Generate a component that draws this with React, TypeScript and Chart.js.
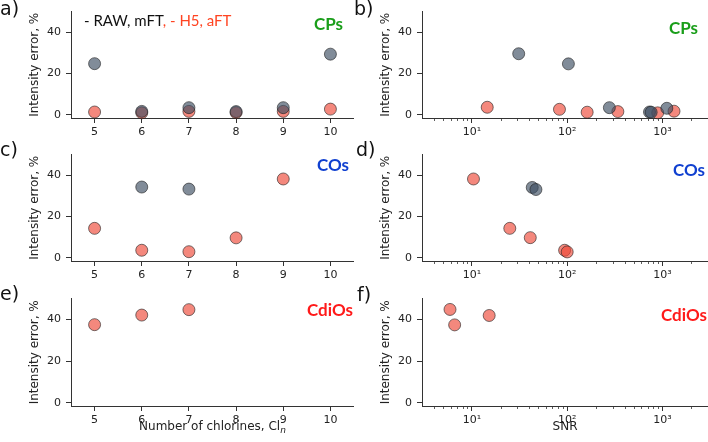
import React, { useEffect, useRef } from 'react';
import { Chart, registerables } from 'chart.js';

Chart.register(...registerables);

// ---------- data ----------
const chlorineTicks = [5, 6, 7, 8, 9, 10];
const snrTicks = [10, 100, 1000];
const snrTickLabels = ['10¹', '10²', '10³'];
const snrMinorTicks = [4, 5, 6, 7, 8, 9, 20, 30, 40, 50, 60, 70, 80, 90, 200, 300, 400, 500, 600, 700, 800, 900, 2000, 3000];
const errorTicks = [0, 20, 40];

// a) CPs vs number of chlorines
const cpClRawX = [5, 6, 7, 8, 9, 10];
const cpClRawY = [24.8, 1.7, 3.5, 1.6, 3.5, 29.4];
const cpClH5X = [5, 6, 7, 8, 9, 10];
const cpClH5Y = [1.4, 1.0, 1.7, 1.1, 1.7, 2.8];

// b) CPs vs SNR
const cpSnrRawX = [31, 103, 277, 730, 760, 1110];
const cpSnrRawY = [29.6, 24.7, 3.5, 1.4, 1.3, 3.2];
const cpSnrH5X = [14.5, 83, 162, 340, 890, 1320];
const cpSnrH5Y = [3.7, 2.7, 1.3, 1.6, 1.0, 1.8];

// c) COs vs number of chlorines
const coClRawX = [6, 7];
const coClRawY = [34.3, 33.3];
const coClH5X = [5, 6, 7, 8, 9];
const coClH5Y = [14.3, 3.7, 3.0, 9.7, 38.2];

// d) COs vs SNR
const coSnrRawX = [43, 47];
const coSnrRawY = [34.1, 33.1];
const coSnrH5X = [10.4, 25, 41, 94, 100];
const coSnrH5Y = [38.2, 14.3, 9.8, 3.7, 2.9];

// e) CdiOs vs number of chlorines
const cdClH5X = [5, 6, 7];
const cdClH5Y = [37.5, 42.1, 44.7];

// f) CdiOs vs SNR
const cdSnrH5X = [5.9, 6.6, 15.2];
const cdSnrH5Y = [44.8, 37.4, 41.9];

// ---------- styling ----------
const FONT = 'DejaVu Sans';
const GRAY = 'rgba(61,79,99,0.65)';
const RED = 'rgba(238,72,55,0.65)';
const EDGE = 'rgba(30,30,30,0.75)';
const AXIS = '#333333';
const TEXT = '#222222';

const zip = (xs: number[], ys: number[]) => xs.map((x, i) => ({ x, y: ys[i] }));

const minorTickPlugin = {
  id: 'minorTicks',
  afterDraw(chart: any) {
    const sc = chart.scales.x;
    if (!sc || sc.type !== 'logarithmic') return;
    const ctx = chart.ctx;
    ctx.save();
    ctx.strokeStyle = AXIS;
    ctx.lineWidth = 0.8;
    snrMinorTicks.forEach((v) => {
      const px = sc.getPixelForValue(v);
      if (px < sc.left - 0.5 || px > sc.right + 0.5) return;
      ctx.beginPath();
      ctx.moveTo(Math.round(px) + 0.5, sc.top);
      ctx.lineTo(Math.round(px) + 0.5, sc.top + 3);
      ctx.stroke();
    });
    ctx.restore();
  },
};

type PanelProps = {
  left: number;
  width: number;
  chartTop: number;
  chartBottom: number;
  log: boolean;
  raw?: { x: number; y: number }[];
  h5: { x: number; y: number }[];
};

function Panel({ left, width, chartTop, chartBottom, log, raw, h5 }: PanelProps) {
  const ref = useRef<HTMLCanvasElement | null>(null);
  const padTop = 10;
  const xAxisH = 24;
  const height = chartBottom - chartTop + padTop + xAxisH;

  useEffect(() => {
    if (!ref.current) return;
    const datasets: any[] = [];
    if (raw) {
      datasets.push({
        label: 'RAW, mFT',
        data: raw,
        backgroundColor: GRAY,
        borderColor: EDGE,
        borderWidth: 0.8,
        pointRadius: 6,
        clip: false,
      });
    }
    datasets.push({
      label: 'H5, aFT',
      data: h5,
      backgroundColor: RED,
      borderColor: EDGE,
      borderWidth: 0.8,
      pointRadius: 6,
      clip: false,
    });

    const gridOpts = {
      drawOnChartArea: false,
      drawTicks: true,
      tickLength: 5,
      color: AXIS,
      tickColor: AXIS,
      tickWidth: 1,
    };
    const borderOpts = { display: true, color: AXIS, width: 1 };

    const chart = new Chart(ref.current, {
      type: 'scatter',
      data: { datasets },
      plugins: [minorTickPlugin],
      options: {
        animation: false,
        responsive: false,
        maintainAspectRatio: false,
        layout: { autoPadding: false, padding: { top: padTop, left: 0, right: 0, bottom: 0 } },
        plugins: {
          legend: { display: false },
          tooltip: { enabled: false },
        },
        scales: {
          x: {
            type: log ? 'logarithmic' : 'linear',
            min: log ? 3 : 4.5,
            max: log ? 3000 : 10.5,
            afterBuildTicks: (s: any) => {
              s.ticks = (log ? snrTicks : chlorineTicks).map((v) => ({ value: v }));
            },
            afterFit: (s: any) => {
              s.height = xAxisH;
            },
            grid: gridOpts,
            border: borderOpts,
            ticks: {
              autoSkip: false,
              maxRotation: 0,
              padding: 3,
              color: TEXT,
              font: { family: FONT, size: 11 },
              callback: (v: any) => {
                if (log) {
                  const i = snrTicks.indexOf(Number(v));
                  return i >= 0 ? snrTickLabels[i] : '';
                }
                return String(v);
              },
            },
          },
          y: {
            type: 'linear',
            min: -1.5,
            max: 50,
            afterBuildTicks: (s: any) => {
              s.ticks = errorTicks.map((v) => ({ value: v }));
            },
            afterFit: (s: any) => {
              s.width = 71;
            },
            grid: gridOpts,
            border: borderOpts,
            title: {
              display: true,
              text: 'Intensity error, %',
              color: TEXT,
              font: { family: FONT, size: 12 },
              padding: { top: 28, bottom: 0 },
            },
            ticks: {
              padding: 5,
              color: TEXT,
              font: { family: FONT, size: 11 },
              callback: (v: any) => String(v),
            },
          },
        },
      } as any,
    });
    return () => chart.destroy();
  }, []);

  return (
    <canvas
      ref={ref}
      width={width}
      height={height}
      style={{ position: 'absolute', left, top: chartTop - padTop, width, height }}
    />
  );
}

const abs = (l: number, t: number, extra: React.CSSProperties = {}): React.CSSProperties => ({
  position: 'absolute',
  left: l,
  top: t,
  whiteSpace: 'nowrap',
  lineHeight: 1,
  margin: 0,
  ...extra,
});

export default function App() {
  const L = { left: 0, width: 354 };
  const R = { left: 351, width: 357 };
  const rows = [
    { top: 10, bottom: 118 },
    { top: 153, bottom: 261 },
    { top: 297, bottom: 406 },
  ];
  const letter: React.CSSProperties = { fontFamily: FONT, fontSize: 19, color: '#111' };
  const cat = (color: string): React.CSSProperties => ({
    fontFamily: 'Lato',
    fontWeight: 700,
    fontSize: 17,
    color,
    width: 100,
    textAlign: 'right',
  });

  return (
    <div style={{ position: 'absolute', left: 0, top: 0, width: 708, height: 442, background: '#fff', overflow: 'hidden' }}>
      <Panel {...L} chartTop={rows[0].top} chartBottom={rows[0].bottom} log={false} raw={zip(cpClRawX, cpClRawY)} h5={zip(cpClH5X, cpClH5Y)} />
      <Panel {...R} chartTop={rows[0].top} chartBottom={rows[0].bottom} log={true} raw={zip(cpSnrRawX, cpSnrRawY)} h5={zip(cpSnrH5X, cpSnrH5Y)} />
      <Panel {...L} chartTop={rows[1].top} chartBottom={rows[1].bottom} log={false} raw={zip(coClRawX, coClRawY)} h5={zip(coClH5X, coClH5Y)} />
      <Panel {...R} chartTop={rows[1].top} chartBottom={rows[1].bottom} log={true} raw={zip(coSnrRawX, coSnrRawY)} h5={zip(coSnrH5X, coSnrH5Y)} />
      <Panel {...L} chartTop={rows[2].top} chartBottom={rows[2].bottom} log={false} h5={zip(cdClH5X, cdClH5Y)} />
      <Panel {...R} chartTop={rows[2].top} chartBottom={rows[2].bottom} log={true} h5={zip(cdSnrH5X, cdSnrH5Y)} />

      {/* panel letters */}
      <div style={abs(0, -1, letter)}>a)</div>
      <div style={abs(354, -1, letter)}>b)</div>
      <div style={abs(0, 140, letter)}>c)</div>
      <div style={abs(356, 140, letter)}>d)</div>
      <div style={abs(0, 284, letter)}>e)</div>
      <div style={abs(357, 285, letter)}>f)</div>

      {/* legend text */}
      <div style={abs(84, 13, { fontFamily: 'Lato', fontSize: 15, color: '#111' })}>
        - RAW, mFT<span style={{ color: '#ff4422' }}>, - H5, aFT</span>
      </div>

      {/* category labels */}
      <div style={abs(243, 15, cat('#1a9e1a'))}>CPs</div>
      <div style={abs(598, 19, cat('#1a9e1a'))}>CPs</div>
      <div style={abs(249, 156, cat('#1040d0'))}>COs</div>
      <div style={abs(605, 161, cat('#1040d0'))}>COs</div>
      <div style={abs(253, 301, cat('#ff1a1a'))}>CdiOs</div>
      <div style={abs(607, 306, cat('#ff1a1a'))}>CdiOs</div>

      {/* x-axis titles */}
      <div style={abs(71, 420, { width: 283, textAlign: 'center', fontFamily: FONT, fontSize: 12, color: TEXT })}>
        Number of chlorines, Cl
        <span style={{ fontStyle: 'italic', fontSize: 9, position: 'relative', top: 3 }}>n</span>
      </div>
      <div style={abs(422, 420, { width: 286, textAlign: 'center', fontFamily: FONT, fontSize: 12, color: TEXT })}>SNR</div>
    </div>
  );
}
